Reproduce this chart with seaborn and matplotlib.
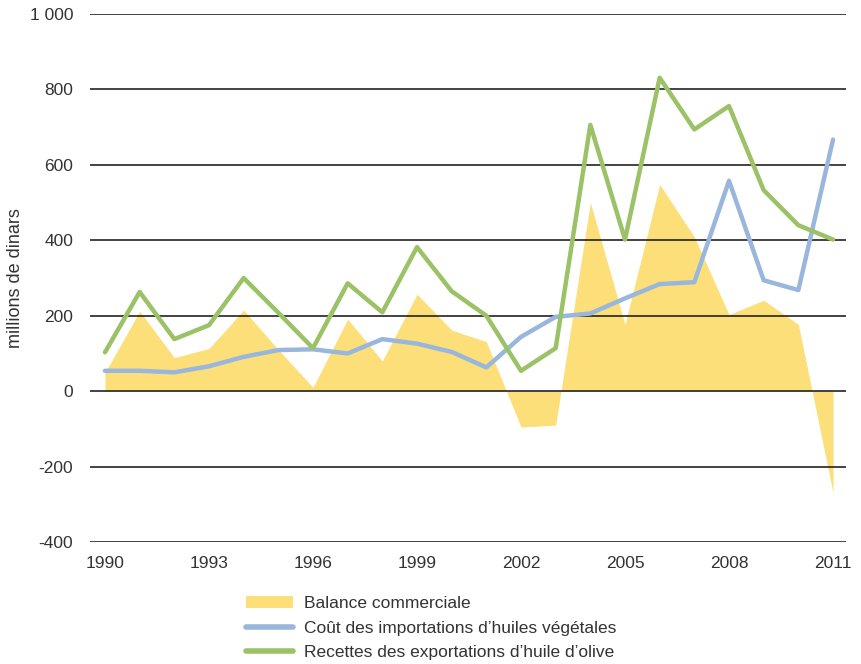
import numpy as np
import pandas as pd
import seaborn as sns
import matplotlib.pyplot as plt
from matplotlib.lines import Line2D
from matplotlib.patches import Patch

# values (millions de dinars)
years = list(range(1990, 2012))
balance = [49, 212, 89, 113, 215, 110, 10, 191, 80, 257, 162, 131,
           -95, -90, 500, 177, 548, 409, 203, 241, 177, -269]
imports_cost = [54, 54, 50, 66, 91, 109, 111, 100, 138, 126, 104, 63,
                144, 197, 206, 246, 284, 289, 558, 294, 268, 667]
exports_rev = [103, 263, 138, 175, 300, 208, 114, 286, 209, 382, 265, 200,
               54, 114, 706, 402, 831, 694, 756, 533, 440, 402]
y_ticks = [-400, -200, 0, 200, 400, 600, 800, 1000]
x_ticks = [1990, 1993, 1996, 1999, 2002, 2005, 2008, 2011]

labels = ["Balance commerciale",
          "Coût des importations d\u2019huiles végétales",
          "Recettes des exportations d\u2019huile d\u2019olive"]
yellow = "#fcdf78"
blue = "#99b6dc"
green = "#9bc266"

df = pd.DataFrame({"year": years, "imports": imports_cost, "exports": exports_rev})

sns.set_style("white")
plt.rcParams['font.family'] = ['Liberation Sans', 'DejaVu Sans']
plt.rcParams['text.color'] = '#333333'

fig = plt.figure(figsize=(8.61, 6.64), dpi=100)
ax = fig.add_axes([0.1045, 0.1837, 0.8781, 0.7952])

ax.fill_between(years, balance, 0, color=yellow, lw=0, zorder=1)
sns.lineplot(data=df, x="year", y="imports", color=blue, lw=3.2, ax=ax, zorder=3)
sns.lineplot(data=df, x="year", y="exports", color=green, lw=3.2, ax=ax, zorder=4)

ax.set_xlim(1989.567, 2011.375)
ax.set_ylim(-400, 1000)
ax.set_yticks(y_ticks)
ax.set_yticklabels([f"{v:,}".replace(",", " ") for v in y_ticks])
ax.set_xticks(x_ticks)
ax.set_axisbelow('line')
ax.yaxis.grid(True, color='#222222', lw=1.2)
ax.xaxis.grid(False)
for s in ax.spines.values():
    s.set_visible(False)
ax.tick_params(axis='both', length=0, labelsize=12.5, colors='#333333')
ax.tick_params(axis='y', pad=12)
ax.tick_params(axis='x', pad=10)
ax.set_xlabel("")
ax.set_ylabel("millions de dinars", fontsize=13, color='#333333', labelpad=4)

handles = [Patch(facecolor=yellow, edgecolor='none'),
           Line2D([], [], color=blue, lw=4),
           Line2D([], [], color=green, lw=4)]
fig.legend(handles, labels, loc='upper left', bbox_to_anchor=(0.2776, 0.113),
           bbox_transform=fig.transFigure, frameon=False, fontsize=12.5,
           handlelength=2.7, handleheight=0.7, handletextpad=0.65, labelspacing=0.55,
           borderaxespad=0)

fig.savefig("out.png", dpi=100)
